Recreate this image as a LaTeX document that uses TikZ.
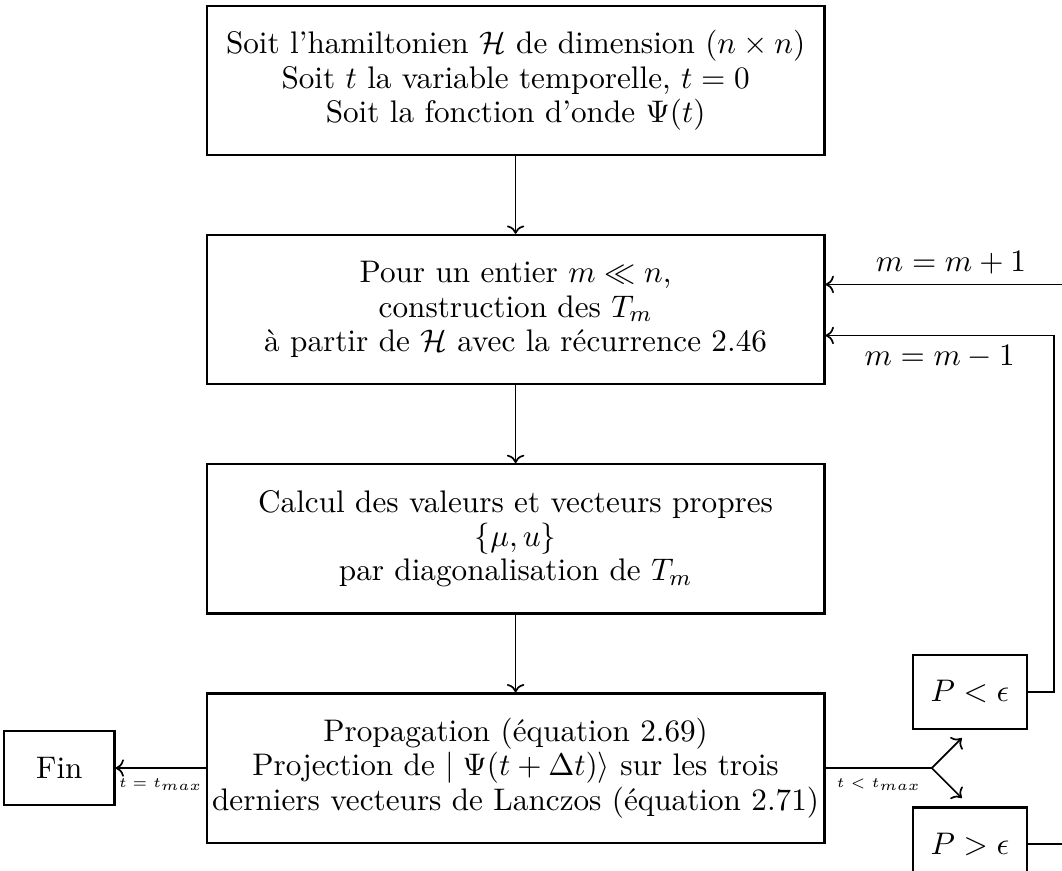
\documentclass[tikz,border=0pt]{standalone}
\usepackage{amsmath, amssymb}
\usetikzlibrary{arrows.meta,positioning,calc}

\begin{document}
\begin{tikzpicture}[>=To, node distance=0.96cm, font=\fontsize{10.95}{12}\selectfont,
    etape/.style={draw, thick, align=center, inner xsep=1.5pt, minimum width=7.62cm, minimum height=1.84cm},
    petit/.style={draw, thick, minimum width=1.4cm, minimum height=0.91cm},
    fleche/.style={->, semithick}]
        \useasboundingbox (0,0) rectangle (13.10,-10.74);

        % Etapes de l'algorithme
        \node[etape] (init) at (6.36,-0.99) {Soit l'hamiltonien $\mathcal{H}$ de dimension $(n \times n)$\\
            Soit $t$ la variable temporelle, $t = 0$\\ Soit la fonction d'onde $\Psi(t)$};
        \node[etape, below=of init] (lanczos) {Pour un entier $m \ll n$,\\ construction des $T_m$\\
            à partir de $\mathcal{H}$ avec la récurrence 2.46};
        \node[etape, below=of lanczos] (diag) {Calcul des valeurs et vecteurs propres\\ $\{\mu, u\}$\\
            par diagonalisation de $T_m$};
        \node[etape, below=of diag] (prop) {Propagation (équation 2.69)\\
            Projection de $\mid \Psi(t + \Delta t)\rangle$ sur les trois\\
            derniers vecteurs de Lanczos (équation 2.71)};

        % Fin et tests
        \node[petit, minimum width=1.36cm, left=1.11cm of prop] (fin) {Fin};
        \node[petit] (pinf) at ($(prop.east)+(1.78,0.94)$) {$P < \epsilon$};
        \node[petit] (psup) at ($(prop.east)+(1.78,-0.94)$) {$P > \epsilon$};
        \coordinate (fourche) at ($(prop.east)+(1.31,0)$);

        \draw[fleche] (init) -- (lanczos);
        \draw[fleche] (lanczos) -- (diag);
        \draw[fleche] (diag) -- (prop);
        \draw[fleche] (prop) -- node[below] {\tiny $t = t_{max}$} (fin);

        % Branches
        \draw[semithick] (prop) -- node[below] {\tiny $t < t_{max}$} (fourche);
        \draw[fleche] (fourche) -- ++(0.37,0.37);
        \draw[fleche] (fourche) -- ++(0.37,-0.37);

        % Boucles sur m
        \draw[fleche] (pinf.east) -- ++(0.32,0) |- ($(lanczos.east)+(0,-0.32)$)
            node[pos=0.75, below] {$m = m - 1$};
        \draw[fleche] (psup.east) -- ++(0.6,0) |- ($(lanczos.east)+(0,0.31)$)
            node[pos=0.75, above] {$m = m + 1$};
    \end{tikzpicture}
\end{document}
